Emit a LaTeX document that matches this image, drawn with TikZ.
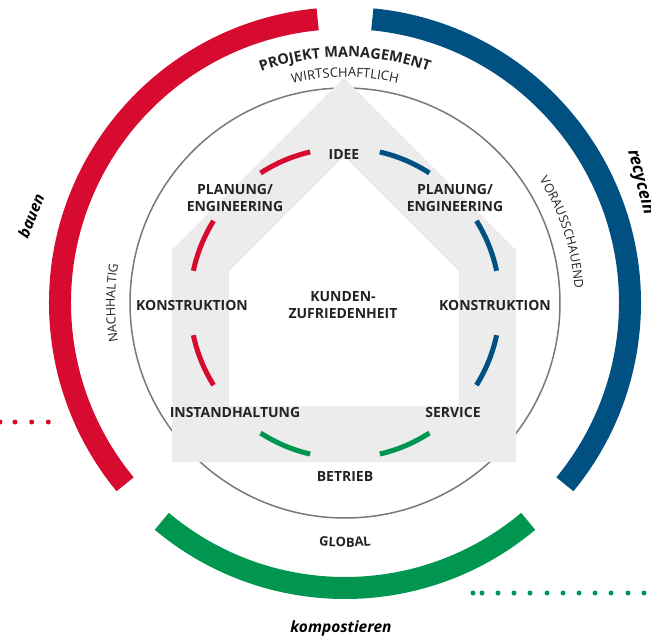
\documentclass[tikz,border=0pt]{standalone}
\usepackage{fontspec}
\setmainfont{Open Sans}
\usetikzlibrary{decorations.text}
\definecolor{cred}{RGB}{215,10,48}
\definecolor{cblue}{RGB}{0,80,130}
\definecolor{cgreen}{RGB}{0,150,80}
\definecolor{band}{RGB}{236,236,236}
\definecolor{ring}{RGB}{120,120,120}
\definecolor{ink}{RGB}{35,35,35}
\begin{document}
\begin{tikzpicture}[x=1pt,y=1pt,
  lab/.style={font=\fontsize{14}{17}\selectfont\bfseries, text=ink, align=center, inner sep=0pt},
  outword/.style={font=\fontsize{15.5}{17}\selectfont\bfseries\itshape, text=black, inner sep=0pt},
  bigarc/.style={line width=22pt},
  seg/.style={line width=5pt},
  dotmark/.style={circle, fill=#1, minimum size=5pt, inner sep=0pt}
]
\clip (-345,-335) rectangle (306,303);
\coordinate (c) at (0,0);
% outer arcs
\draw[bigarc, cred] (95.5:285) arc[start angle=95.5, end angle=219.5, radius=285];
\draw[bigarc, cblue] (84.5:285) arc[start angle=84.5, end angle=-39.5, radius=285];
\draw[bigarc, cgreen] (230:285) arc[start angle=230, end angle=310, radius=285];
% grey ring
\draw[ring, line width=1.5pt] (c) circle[radius=215];
% house band
\fill[band, even odd rule] (-1,225) -- (-173,53) -- (-173,-159) -- (171,-159) -- (171,53) -- cycle
  (-1,147) -- (-116,32) -- (-116,-103) -- (114,-103) -- (114,32) -- cycle;
% inner segments
\foreach \a/\b in {103/123,148/168,192/212}
  \draw[seg, cred] (\a:155) arc[start angle=\a, end angle=\b, radius=155];
\foreach \a/\b in {77/57,32/12,-12/-32}
  \draw[seg, cblue] (\a:155) arc[start angle=\a, end angle=\b, radius=155];
\foreach \a/\b in {237/257,283/303}
  \draw[seg, cgreen] (\a:155) arc[start angle=\a, end angle=\b, radius=155];
% labels
\node[lab] (idee) at (-1,148) {IDEE};
\node[lab] (planl) at (-110,105) {PLANUNG/\\ENGINEERING};
\node[lab] (planr) at (110,105) {PLANUNG/\\ENGINEERING};
\node[lab] (konl) at (-153,-2) {KONSTRUKTION};
\node[lab] (konr) at (150,-2) {KONSTRUKTION};
\node[lab] (kunde) at (-2,-2) {KUNDEN-\\ZUFRIEDENHEIT};
\node[lab] (inst) at (-110,-109) {INSTANDHALTUNG};
\node[lab] (serv) at (108,-109) {SERVICE};
\node[lab] (betr) at (0,-173) {BETRIEB};
% curved texts
\path[decorate, decoration={text along path, text color=ink, text align=center,
  text={|\fontsize{14.5}{16}\selectfont\bfseries|PROJEKT MANAGEMENT}}]
  (150:246) arc[start angle=150, end angle=30, radius=246];
\path[decorate, decoration={text along path, text color=ink, text align=center,
  text={|\fontsize{13}{15}\selectfont|WIRTSCHAFTLICH}}]
  (150:226) arc[start angle=150, end angle=30, radius=226];
\path[decorate, decoration={text along path, text color=ink, text align=center,
  text={|\fontsize{12.5}{14}\selectfont|NACHHALTIG}}]
  (210:230) arc[start angle=210, end angle=150, radius=230];
\path[decorate, decoration={text along path, text color=ink, text align=center,
  text={|\fontsize{12.5}{14}\selectfont|VORAUSSCHAUEND}}]
  (58:230) arc[start angle=58, end angle=-22, radius=230];
\path[decorate, decoration={text along path, text color=ink, text align=center,
  text={|\fontsize{13}{15}\selectfont\bfseries|GLOBAL}}]
  (240:244) arc[start angle=240, end angle=300, radius=244];
% outer words
\node[outword, rotate=68] (bauen) at (-314,87) {bauen};
\node[outword, font=\fontsize{17}{19}\selectfont\bfseries\itshape, rotate=-75.5, anchor=base west] (recy) at (283,152) {recyceln};
\node[outword, anchor=base] (komp) at (-4,-329) {kompostieren};
% dots
\foreach \x [count=\i] in {-345,-330,-313.3,-296.7}
  \node[dotmark=cred] (rd\i) at (\x,-119) {};
\foreach \x [count=\i] in {128,137,153,169,185,202,218,234,250,266,283,299}
  \node[dotmark=cgreen] (gd\i) at (\x,-290) {};
\end{tikzpicture}
\end{document}
